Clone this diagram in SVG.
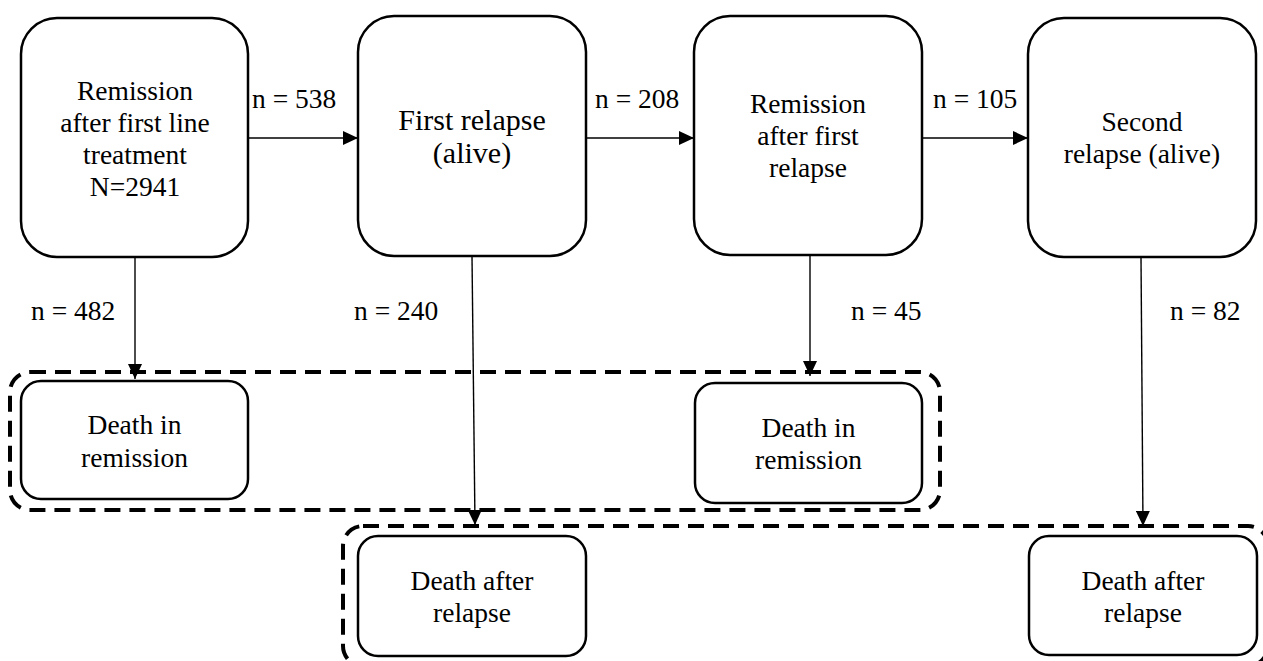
<svg xmlns="http://www.w3.org/2000/svg" width="1263" height="661" viewBox="0 0 1263 661">
<style>
.box{fill:#fff;stroke:#000;stroke-width:2.5}
.grp{fill:none;stroke:#000;stroke-width:4;stroke-dasharray:16 9}
text{font-family:'Liberation Serif','Times New Roman',Tinos,'DejaVu Serif',serif;font-size:27.5px;fill:#000}
.t{text-anchor:middle}
.big{font-size:30px}
.c{stroke:#000;stroke-width:1.4;fill:none;marker-end:url(#ah)}
</style>
<defs>
<marker id="ah" markerUnits="userSpaceOnUse" markerWidth="16" markerHeight="14" refX="15" refY="7" orient="auto">
<path d="M0,0 L15,7 L0,14 z" fill="#000"/>
</marker>
</defs>
<rect width="1263" height="661" fill="#fff"/>
<g id="groups">
<rect id="group-death-remission" class="grp" x="10" y="372" width="930" height="138" rx="20"/>
<rect id="group-death-relapse" class="grp" x="343" y="526" width="925" height="140" rx="20"/>
</g>
<g id="node-remission1" font-family="Liberation Serif, serif">
<rect class="box" x="21" y="18" width="227" height="239" rx="36"/>
<text class="t" x="135" y="100">Remission</text>
<text class="t" x="135" y="132">after first line</text>
<text class="t" x="135" y="164">treatment</text>
<text class="t" x="135" y="196">N=2941</text>
</g>
<g id="node-relapse1">
<rect class="box" x="358" y="16" width="228" height="240" rx="36"/>
<text class="t big" x="472" y="130">First relapse</text>
<text class="t big" x="472" y="163">(alive)</text>
</g>
<g id="node-remission2">
<rect class="box" x="694" y="16" width="228" height="239" rx="36"/>
<text class="t" x="808" y="113">Remission</text>
<text class="t" x="808" y="145">after first</text>
<text class="t" x="808" y="177">relapse</text>
</g>
<g id="node-relapse2">
<rect class="box" x="1028" y="18" width="228" height="239" rx="36"/>
<text class="t" x="1142" y="131">Second</text>
<text class="t" x="1142" y="163">relapse (alive)</text>
</g>
<g id="node-death-remission1">
<rect class="box" x="21" y="381" width="227" height="118" rx="20"/>
<text class="t" x="134.5" y="434">Death in</text>
<text class="t" x="134.5" y="467">remission</text>
</g>
<g id="node-death-remission2">
<rect class="box" x="695" y="383" width="227" height="120" rx="20"/>
<text class="t" x="808.5" y="437">Death in</text>
<text class="t" x="808.5" y="469">remission</text>
</g>
<g id="node-death-relapse1">
<rect class="box" x="358" y="536" width="228" height="120" rx="20"/>
<text class="t" x="472" y="590">Death after</text>
<text class="t" x="472" y="622">relapse</text>
</g>
<g id="node-death-relapse2">
<rect class="box" x="1029" y="536" width="228" height="119" rx="20"/>
<text class="t" x="1143" y="590">Death after</text>
<text class="t" x="1143" y="622">relapse</text>
</g>
<g id="connectors">
<line class="c" x1="248" y1="138" x2="358" y2="138"/>
<line class="c" x1="586" y1="138" x2="694" y2="138"/>
<line class="c" x1="922" y1="138" x2="1028" y2="138"/>
<line class="c" x1="135" y1="257" x2="135" y2="379"/>
<line class="c" x1="472" y1="256" x2="475" y2="525"/>
<line class="c" x1="810" y1="255" x2="810" y2="376"/>
<line class="c" x1="1141" y1="257" x2="1143" y2="526"/>
<text x="252" y="108">n = 538</text>
<text x="595" y="108">n = 208</text>
<text x="933" y="108">n = 105</text>
<text x="31" y="320">n = 482</text>
<text x="354" y="320">n = 240</text>
<text x="851" y="320">n = 45</text>
<text x="1170" y="320">n = 82</text>
</g>
</svg>
